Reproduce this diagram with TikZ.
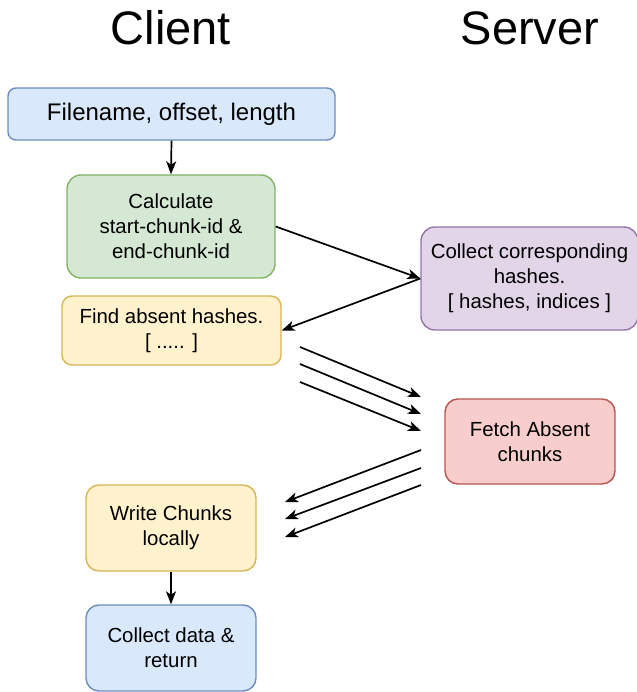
\documentclass[tikz,border=0pt]{standalone}
\usepackage{fontspec}
\setmainfont{Liberation Sans}
\usetikzlibrary{arrows.meta}
\definecolor{bluefill}{HTML}{DAE8FC}\definecolor{bluedraw}{HTML}{6C8EBF}
\definecolor{greenfill}{HTML}{D5E8D4}\definecolor{greendraw}{HTML}{82B366}
\definecolor{purplefill}{HTML}{E1D5E7}\definecolor{purpledraw}{HTML}{9673A6}
\definecolor{yellowfill}{HTML}{FFF2CC}\definecolor{yellowdraw}{HTML}{D6B656}
\definecolor{redfill}{HTML}{F8CECC}\definecolor{reddraw}{HTML}{B85450}
\tikzset{
  box/.style={draw, line width=1.4pt, align=center, inner sep=0pt,
    font=\fontsize{20.4}{25}\selectfont},
  bluebox/.style={box, fill=bluefill, draw=bluedraw},
  greenbox/.style={box, fill=greenfill, draw=greendraw},
  purplebox/.style={box, fill=purplefill, draw=purpledraw},
  yellowbox/.style={box, fill=yellowfill, draw=yellowdraw},
  redbox/.style={box, fill=redfill, draw=reddraw},
  title/.style={anchor=base, inner sep=0pt, font=\fontsize{47}{52}\selectfont},
  flow/.style={line width=1.7pt, -{Stealth[length=13pt, width=10pt, inset=3.5pt]}},
}
\begin{document}
\begin{tikzpicture}[x=1pt, y=-1pt]
\useasboundingbox (0,0) rectangle (636,692);

% column headings
\node[title] (client) at (171,45) {Client};
\node[title] (server) at (530,45) {Server};

% client side steps
\node[bluebox, minimum width=327pt, minimum height=52pt, rounded corners=8pt,
  font=\fontsize{24}{28}\selectfont] (fn) at (171.5,114) {Filename, offset, length};
\node[greenbox, minimum width=208pt, minimum height=103pt, rounded corners=14pt]
  (calc) at (171,226.5) {Calculate\\start-chunk-id \&\\end-chunk-id};
\node[yellowbox, minimum width=219pt, minimum height=69pt, rounded corners=10pt]
  (find) at (171.5,330.5) {Find absent hashes.\\{[} ..... ]};
\node[yellowbox, minimum width=170pt, minimum height=86pt, rounded corners=13pt]
  (write) at (171,528) {Write Chunks\\locally};
\node[bluebox, minimum width=170pt, minimum height=86pt, rounded corners=13pt]
  (ret) at (171,648) {Collect data \&\\return};

% server side steps
\node[purplebox, minimum width=217pt, minimum height=103pt, rounded corners=14pt]
  (coll) at (529.5,278.5) {Collect corresponding\\hashes.\\{[} hashes, indices ]};
\node[redbox, minimum width=170pt, minimum height=85pt, rounded corners=13pt]
  (fetch) at (530,441.5) {Fetch Absent\\chunks};

% request / response arrows
\draw[flow] (fn.south) -- (calc.north);
\draw[flow] (calc.east) -- (coll.west);
\draw[flow] (coll.west) -- (find.east);
\draw[flow] (write.south) -- (ret.north);

% batched requests to the server
\coordinate (rq1s) at (300,347); \coordinate (rq1e) at (421,397);
\coordinate (rq2s) at (300,364); \coordinate (rq2e) at (421,414);
\coordinate (rq3s) at (300,382); \coordinate (rq3e) at (421,431);
\draw[flow] (rq1s) -- (rq1e);
\draw[flow] (rq2s) -- (rq2e);
\draw[flow] (rq3s) -- (rq3e);

% chunks coming back to the client
\coordinate (rp1s) at (421,450); \coordinate (rp1e) at (285,502);
\coordinate (rp2s) at (421,468); \coordinate (rp2e) at (285,519);
\coordinate (rp3s) at (421,485); \coordinate (rp3e) at (285,537);
\draw[flow] (rp1s) -- (rp1e);
\draw[flow] (rp2s) -- (rp2e);
\draw[flow] (rp3s) -- (rp3e);
\end{tikzpicture}
\end{document}
